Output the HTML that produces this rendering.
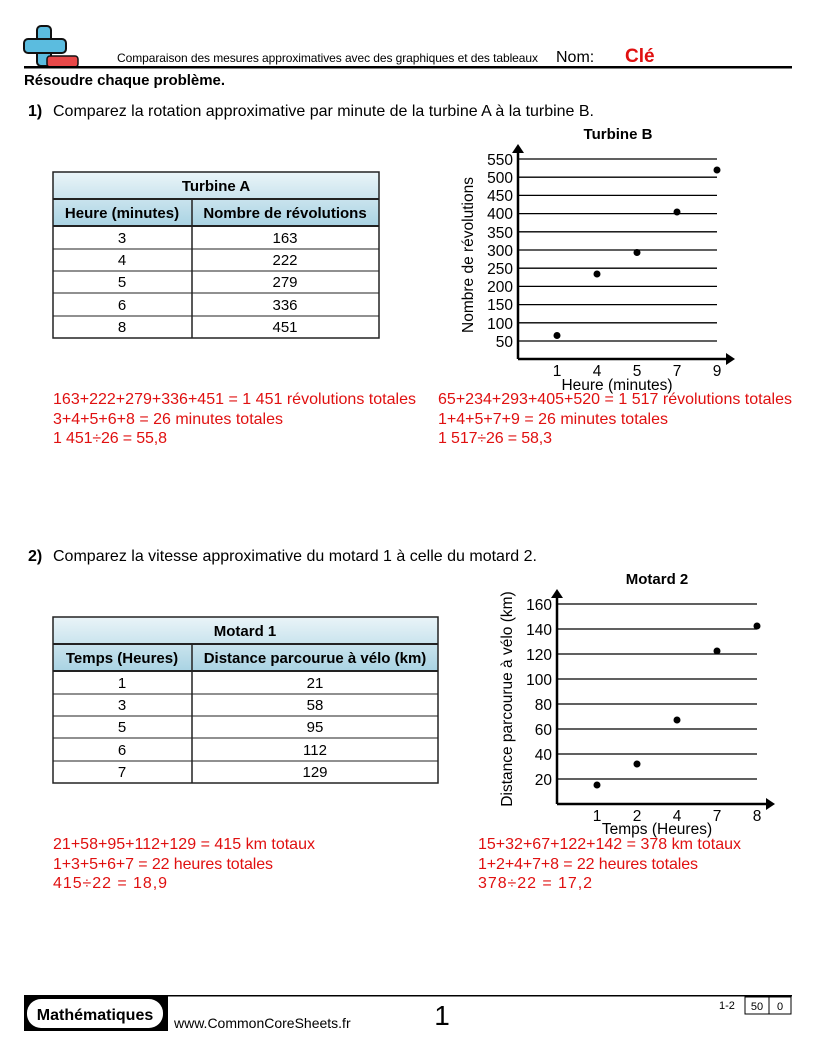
<!DOCTYPE html>
<html><head><meta charset="utf-8"><style>
body{margin:0;background:#fff}
svg{display:block}
text{font-family:"Liberation Sans",sans-serif}
</style></head><body>
<svg width="816" height="1056" viewBox="0 0 816 1056" xmlns="http://www.w3.org/2000/svg">
<defs>
<linearGradient id="g" x1="0" y1="0" x2="0" y2="1">
<stop offset="0" stop-color="#eaf4f8"/><stop offset="1" stop-color="#a9d3e3"/>
</linearGradient>
</defs>
<!-- header -->
<rect x="37" y="26" width="14" height="40" rx="4" fill="#5bbcdf" stroke="#111" stroke-width="2"/>
<rect x="24" y="39" width="42" height="14" rx="4" fill="#5bbcdf" stroke="#111" stroke-width="2"/>
<rect x="38" y="40" width="12" height="12" fill="#5bbcdf"/>
<rect x="47" y="56" width="31" height="11" rx="3" fill="#e84848" stroke="#111" stroke-width="1.5"/>
<text x="117" y="62" font-size="12" textLength="421">Comparaison des mesures approximatives avec des graphiques et des tableaux</text>
<text x="556" y="62" font-size="16">Nom:</text>
<text x="625" y="62" font-size="19" font-weight="bold" fill="#e01010">Clé</text>
<rect x="24" y="66" width="768" height="2.5" fill="#000"/>
<text x="24" y="85" font-size="15" font-weight="bold" textLength="201">Résoudre chaque problème.</text>
<text x="28" y="116" font-size="16"><tspan font-weight="bold">1)</tspan></text>
<text x="53" y="116" font-size="16" textLength="541">Comparez la rotation approximative par minute de la turbine A à la turbine B.</text>

<!-- Table 1 -->
<g font-size="15" text-anchor="middle">
<rect x="53" y="172" width="326" height="54" fill="url(#g)"/>
<rect x="53" y="172" width="326" height="166" fill="none" stroke="#222" stroke-width="1.5"/>
<line x1="53" y1="199" x2="379" y2="199" stroke="#222" stroke-width="2"/>
<line x1="53" y1="226" x2="379" y2="226" stroke="#222" stroke-width="2"/>
<line x1="192" y1="199" x2="192" y2="338" stroke="#222" stroke-width="1.5"/>
<line x1="53" y1="249" x2="379" y2="249" stroke="#222"/>
<line x1="53" y1="271" x2="379" y2="271" stroke="#222"/>
<line x1="53" y1="293" x2="379" y2="293" stroke="#222"/>
<line x1="53" y1="316" x2="379" y2="316" stroke="#222"/>
<text x="216" y="191" font-weight="bold">Turbine A</text>
<text x="122" y="218" font-weight="bold">Heure (minutes)</text>
<text x="285" y="218" font-weight="bold">Nombre de révolutions</text>
<text x="122" y="243">3</text><text x="285" y="243">163</text>
<text x="122" y="265">4</text><text x="285" y="265">222</text>
<text x="122" y="287">5</text><text x="285" y="287">279</text>
<text x="122" y="310">6</text><text x="285" y="310">336</text>
<text x="122" y="332">8</text><text x="285" y="332">451</text>
</g>

<!-- Chart 1 -->
<text x="618" y="139" font-size="15" font-weight="bold" text-anchor="middle">Turbine B</text>
<g stroke="#000" stroke-width="1.3">
<line x1="518" y1="159" x2="717" y2="159"/><line x1="518" y1="177.2" x2="717" y2="177.2"/>
<line x1="518" y1="195.4" x2="717" y2="195.4"/><line x1="518" y1="213.6" x2="717" y2="213.6"/>
<line x1="518" y1="231.8" x2="717" y2="231.8"/><line x1="518" y1="250" x2="717" y2="250"/>
<line x1="518" y1="268.2" x2="717" y2="268.2"/><line x1="518" y1="286.4" x2="717" y2="286.4"/>
<line x1="518" y1="304.6" x2="717" y2="304.6"/><line x1="518" y1="322.8" x2="717" y2="322.8"/>
<line x1="518" y1="341" x2="717" y2="341"/>
</g>
<line x1="518" y1="150" x2="518" y2="359" stroke="#000" stroke-width="2.5"/>
<line x1="518" y1="359" x2="728" y2="359" stroke="#000" stroke-width="2.5"/>
<polygon points="518,144 512,153 524,153"/>
<polygon points="735,359 726,353 726,365"/>
<g font-size="15.5" text-anchor="end">
<text x="513" y="165">550</text><text x="513" y="183">500</text><text x="513" y="201">450</text>
<text x="513" y="219">400</text><text x="513" y="238">350</text><text x="513" y="256">300</text>
<text x="513" y="274">250</text><text x="513" y="292">200</text><text x="513" y="310">150</text>
<text x="513" y="329">100</text><text x="513" y="347">50</text>
</g>
<g font-size="15.5" text-anchor="middle">
<text x="557" y="376">1</text><text x="597" y="376">4</text><text x="637" y="376">5</text><text x="677" y="376">7</text><text x="717" y="376">9</text>
<text x="617" y="390">Heure (minutes)</text>
<text transform="translate(473,255) rotate(-90)">Nombre de révolutions</text>
</g>
<g>
<circle cx="557" cy="335.5" r="3.5"/><circle cx="597" cy="274" r="3.5"/><circle cx="637" cy="252.5" r="3.5"/>
<circle cx="677" cy="212" r="3.5"/><circle cx="717" cy="170" r="3.5"/>
</g>

<g font-size="16" fill="#e01010">
<text x="53" y="404" textLength="363">163+222+279+336+451 = 1 451 révolutions totales</text>
<text x="53" y="424" textLength="230">3+4+5+6+8 = 26 minutes totales</text>
<text x="53" y="443" textLength="114">1 451÷26 = 55,8</text>
<text x="438" y="404" textLength="354">65+234+293+405+520 = 1 517 révolutions totales</text>
<text x="438" y="424" textLength="230">1+4+5+7+9 = 26 minutes totales</text>
<text x="438" y="443" textLength="114">1 517÷26 = 58,3</text>
</g>

<text x="28" y="561" font-size="16"><tspan font-weight="bold">2)</tspan></text>
<text x="53" y="561" font-size="16" textLength="484">Comparez la vitesse approximative du motard 1 à celle du motard 2.</text>

<!-- Table 2 -->
<g font-size="15" text-anchor="middle">
<rect x="53" y="617" width="385" height="54" fill="url(#g)"/>
<rect x="53" y="617" width="385" height="166" fill="none" stroke="#222" stroke-width="1.5"/>
<line x1="53" y1="644" x2="438" y2="644" stroke="#222" stroke-width="2"/>
<line x1="53" y1="671" x2="438" y2="671" stroke="#222" stroke-width="2"/>
<line x1="192" y1="644" x2="192" y2="783" stroke="#222" stroke-width="1.5"/>
<line x1="53" y1="694" x2="438" y2="694" stroke="#222"/>
<line x1="53" y1="716" x2="438" y2="716" stroke="#222"/>
<line x1="53" y1="738" x2="438" y2="738" stroke="#222"/>
<line x1="53" y1="761" x2="438" y2="761" stroke="#222"/>
<text x="245" y="636" font-weight="bold">Motard 1</text>
<text x="122" y="663" font-weight="bold">Temps (Heures)</text>
<text x="315" y="663" font-weight="bold">Distance parcourue à vélo (km)</text>
<text x="122" y="688">1</text><text x="315" y="688">21</text>
<text x="122" y="710">3</text><text x="315" y="710">58</text>
<text x="122" y="732">5</text><text x="315" y="732">95</text>
<text x="122" y="755">6</text><text x="315" y="755">112</text>
<text x="122" y="777">7</text><text x="315" y="777">129</text>
</g>

<!-- Chart 2 -->
<text x="657" y="584" font-size="15" font-weight="bold" text-anchor="middle">Motard 2</text>
<g stroke="#000" stroke-width="1.3">
<line x1="557" y1="604" x2="757" y2="604"/><line x1="557" y1="629" x2="757" y2="629"/>
<line x1="557" y1="654" x2="757" y2="654"/><line x1="557" y1="679" x2="757" y2="679"/>
<line x1="557" y1="704" x2="757" y2="704"/><line x1="557" y1="729" x2="757" y2="729"/>
<line x1="557" y1="754" x2="757" y2="754"/><line x1="557" y1="779" x2="757" y2="779"/>
</g>
<line x1="557" y1="596" x2="557" y2="804" stroke="#000" stroke-width="2.5"/>
<line x1="557" y1="804" x2="768" y2="804" stroke="#000" stroke-width="2.5"/>
<polygon points="557,589 551,598 563,598"/>
<polygon points="775,804 766,798 766,810"/>
<g font-size="15.5" text-anchor="end">
<text x="552" y="610">160</text><text x="552" y="635">140</text><text x="552" y="660">120</text>
<text x="552" y="685">100</text><text x="552" y="710">80</text><text x="552" y="735">60</text>
<text x="552" y="760">40</text><text x="552" y="785">20</text>
</g>
<g font-size="15.5" text-anchor="middle">
<text x="597" y="821">1</text><text x="637" y="821">2</text><text x="677" y="821">4</text><text x="717" y="821">7</text><text x="757" y="821">8</text>
<text x="657" y="834">Temps (Heures)</text>
<text transform="translate(512,699) rotate(-90)">Distance parcourue à vélo (km)</text>
</g>
<g>
<circle cx="597" cy="785" r="3.5"/><circle cx="637" cy="764" r="3.5"/><circle cx="677" cy="720" r="3.5"/>
<circle cx="717" cy="651" r="3.5"/><circle cx="757" cy="626" r="3.5"/>
</g>

<g font-size="16" fill="#e01010">
<text x="53" y="849" textLength="262">21+58+95+112+129 = 415 km totaux</text>
<text x="53" y="869" textLength="220">1+3+5+6+7 = 22 heures totales</text>
<text x="53" y="888" textLength="114">415÷22 = 18,9</text>
<text x="478" y="849" textLength="263">15+32+67+122+142 = 378 km totaux</text>
<text x="478" y="869" textLength="220">1+2+4+7+8 = 22 heures totales</text>
<text x="478" y="888" textLength="114">378÷22 = 17,2</text>
</g>

<!-- footer -->
<rect x="24" y="995" width="768" height="1.5" fill="#000"/>
<rect x="24" y="995" width="144" height="36" fill="#000"/>
<rect x="27" y="999" width="136" height="29" rx="14" fill="#fff"/>
<text x="95" y="1020" font-size="16" font-weight="bold" text-anchor="middle">Mathématiques</text>
<text x="174" y="1028" font-size="14">www.CommonCoreSheets.fr</text>
<text x="442" y="1025" font-size="28" text-anchor="middle">1</text>
<text x="719" y="1009" font-size="11">1-2</text>
<rect x="745" y="997" width="24" height="17" fill="none" stroke="#000"/>
<rect x="769" y="997" width="22" height="17" fill="none" stroke="#000"/>
<text x="757" y="1010" font-size="11" text-anchor="middle">50</text>
<text x="780" y="1010" font-size="11" text-anchor="middle">0</text>
</svg>
</body></html>
